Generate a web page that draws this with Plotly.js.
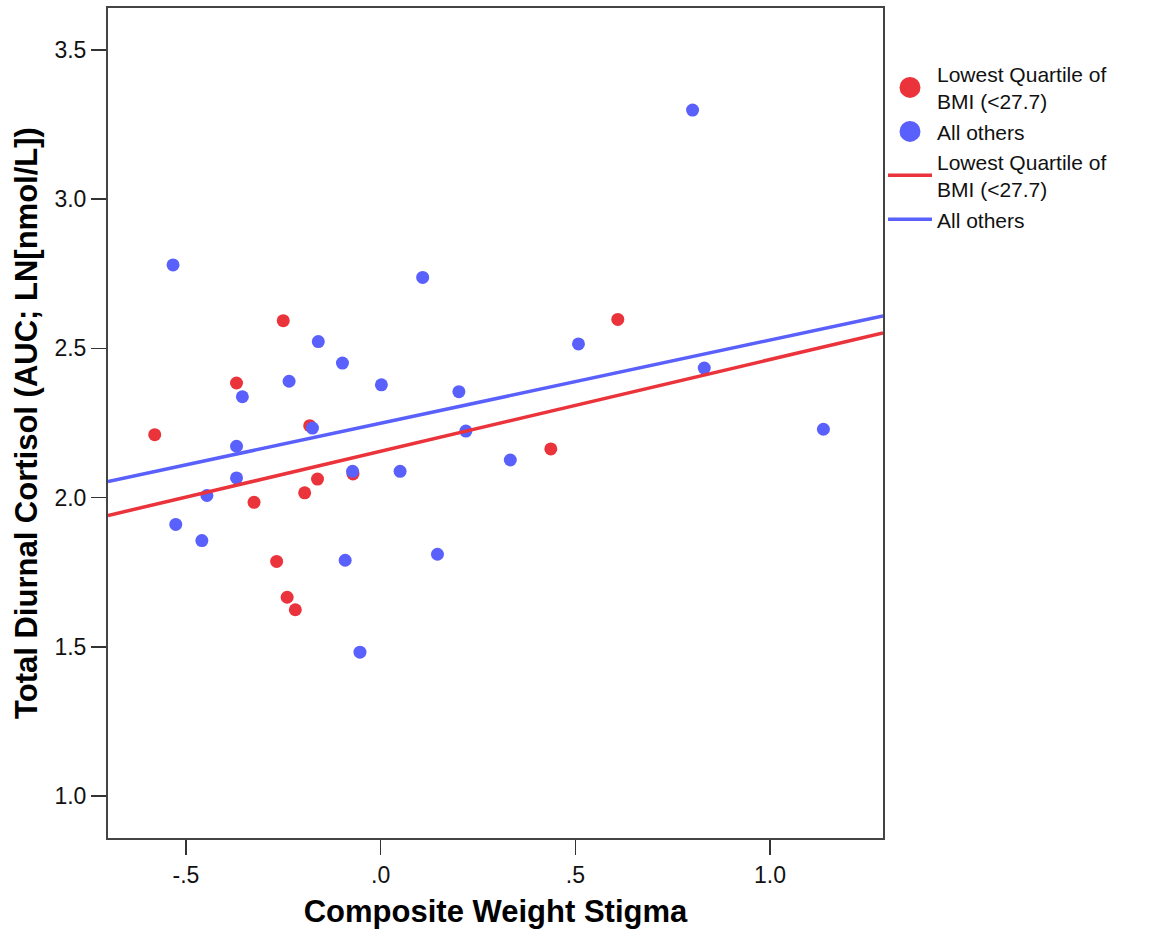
<!DOCTYPE html>
<html>
<head>
<meta charset="utf-8">
<script src="https://cdn.plot.ly/plotly-3.0.1.min.js"></script>
<style>html,body{margin:0;padding:0;background:#fff;}#chart{width:1150px;height:938px;}</style>
</head>
<body>
<div id="chart"></div>
<script>
// Lowest quartile of BMI (<27.7)
const lowX = [-0.250, -0.370, -0.580, -0.182, -0.162, -0.071, -0.325, -0.195, -0.267, -0.240, -0.219, 0.437, 0.609];
const lowY = [2.593, 2.384, 2.211, 2.241, 2.062, 2.079, 1.984, 2.016, 1.786, 1.666, 1.624, 2.163, 2.597];
// All others
const othX = [-0.533, -0.160, -0.098, -0.235, 0.002, -0.355, -0.175, -0.370, -0.370, -0.072, -0.446, -0.526, -0.459, -0.091, -0.053, 0.108, 0.508, 0.201, 0.219, 0.333, 0.050, 0.146, 0.801, 0.831, 1.137];
const othY = [2.780, 2.523, 2.451, 2.390, 2.378, 2.338, 2.233, 2.172, 2.066, 2.088, 2.007, 1.910, 1.856, 1.790, 1.482, 2.738, 2.515, 2.355, 2.223, 2.126, 2.088, 1.810, 3.299, 2.434, 2.229];
// Fit lines (read at plot edges)
const fitX = [-0.70, 1.29];
const lowFitY = [1.940, 2.552];
const othFitY = [2.054, 2.609];
// Tick labels
const xTickVals = [-0.5, 0, 0.5, 1.0];
const xTickText = ['-.5', '.0', '.5', '1.0'];
const yTickVals = [1.0, 1.5, 2.0, 2.5, 3.0, 3.5];
const yTickText = ['1.0', '1.5', '2.0', '2.5', '3.0', '3.5'];

const RED = '#eb333b';
const BLUE = '#5a60fb';
const lowName = 'Lowest Quartile of<br>BMI (<27.7)';
const othName = 'All others';

const traces = [
  // legend entries for the point groups (larger symbols, as in the original key)
  {x: [null], y: [null], type: 'scatter', mode: 'markers', name: lowName, legendgroup: 'lowpts',
   marker: {color: RED, size: 16, line: {color: RED, width: 5}}},
  {x: [null], y: [null], type: 'scatter', mode: 'markers', name: othName, legendgroup: 'othpts',
   marker: {color: BLUE, size: 16, line: {color: BLUE, width: 5}}},
  {x: lowX, y: lowY, type: 'scatter', mode: 'markers', name: lowName, legendgroup: 'lowpts',
   showlegend: false, marker: {color: RED, size: 13}},
  {x: othX, y: othY, type: 'scatter', mode: 'markers', name: othName, legendgroup: 'othpts',
   showlegend: false, marker: {color: BLUE, size: 13}},
  {x: fitX, y: lowFitY, type: 'scatter', mode: 'lines', name: lowName,
   line: {color: RED, width: 3.5}},
  {x: fitX, y: othFitY, type: 'scatter', mode: 'lines', name: othName,
   line: {color: BLUE, width: 3.5}}
];

const FONT = 'Arial, "Liberation Sans", sans-serif';
const layout = {
  width: 1150, height: 938,
  margin: {l: 108, r: 267, t: 8, b: 100},
  paper_bgcolor: '#fff', plot_bgcolor: '#fff',
  font: {family: FONT, color: '#111'},
  showlegend: true,
  legend: {x: 1.0, xanchor: 'left', y: 0.945, yanchor: 'top',
           font: {family: FONT, size: 21, color: '#111'},
           bgcolor: 'rgba(0,0,0,0)', tracegroupgap: 0, itemwidth: 44},
  xaxis: {
    range: [-0.70, 1.29], tickvals: xTickVals, ticktext: xTickText,
    ticks: 'outside', ticklen: 15, tickwidth: 1.5, tickcolor: '#333',
    showline: true, mirror: true, linecolor: '#444', linewidth: 2,
    showgrid: false, zeroline: false,
    tickfont: {family: FONT, size: 23, color: '#111'},
    title: {text: 'Composite Weight Stigma', standoff: 14,
            font: {family: FONT, size: 31, color: '#000', weight: 'bold'}}
  },
  yaxis: {
    range: [0.859, 3.641], tickvals: yTickVals, ticktext: yTickText,
    ticks: 'outside', ticklen: 15, tickwidth: 1.5, tickcolor: '#333',
    showline: true, mirror: true, linecolor: '#444', linewidth: 2,
    showgrid: false, zeroline: false,
    tickfont: {family: FONT, size: 23, color: '#111'},
    title: {text: 'Total Diurnal Cortisol (AUC; LN[nmol/L])', standoff: 8,
            font: {family: FONT, size: 31, color: '#000', weight: 'bold'}}
  }
};

Plotly.newPlot('chart', traces, layout, {displayModeBar: false, staticPlot: true});
</script>
</body>
</html>
